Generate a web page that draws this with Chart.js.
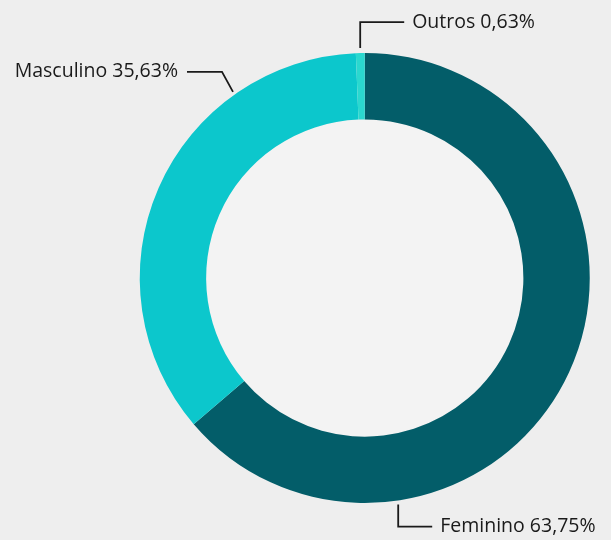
<!DOCTYPE html>
<html>
<head>
<meta charset="utf-8">
<script src="https://cdn.jsdelivr.net/npm/chart.js@4"></script>
<style>
    html, body { margin: 0; padding: 0; background: #eeeeee; }
    #wrap { width: 611px; height: 540px; }
</style>
</head>
<body>
<div id="wrap"><canvas id="genero" width="611" height="540"></canvas></div>
<script>
const categorias = ['Feminino', 'Masculino', 'Outros'];
const percentuais = [63.75, 35.63, 0.63];
const rotulos = ['Feminino 63,75%', 'Masculino 35,63%', 'Outros 0,63%'];
const cores = ['#035d69', '#0cc7cc', '#2ad8cf'];

// leader lines: angle on the ring (deg, clockwise from top), then elbow / end offsets
const chamadas = [
    { angulo: 171.6, raio: 4, dy: 22, dx: 34, lado: 'dir' },
    { angulo: 324.7, raio: 3, dy: -20, dx: -35, lado: 'esq', dxElbow: -11 },
    { angulo: null, raio: 5, dy: -26, dx: 44, lado: 'dir' }
];

const fundoInterno = {
    id: 'fundoInterno',
    beforeDatasetsDraw(chart) {
        const arc = chart.getDatasetMeta(0).data[0];
        if (!arc) return;
        const { x, y, innerRadius } = arc.getProps(['x', 'y', 'innerRadius'], true);
        const ctx = chart.ctx;
        ctx.save();
        ctx.fillStyle = '#f3f3f3';
        ctx.beginPath();
        ctx.arc(x, y, innerRadius, 0, Math.PI * 2);
        ctx.fill();
        ctx.restore();
    }
};

const rotulosPlugin = {
    id: 'rotulos',
    afterDatasetsDraw(chart) {
        const ctx = chart.ctx;
        const meta = chart.getDatasetMeta(0);
        ctx.save();
        ctx.strokeStyle = '#1a1a1a';
        ctx.lineWidth = 1.8;
        ctx.fillStyle = '#1a1a1a';
        ctx.font = '19.5px "Open Sans"';
        ctx.textBaseline = 'middle';
        meta.data.forEach((arc, i) => {
            const p = arc.getProps(['x', 'y', 'startAngle', 'endAngle', 'outerRadius'], true);
            const c = chamadas[i];
            let a;
            if (c.angulo === null) {
                a = (p.startAngle + p.endAngle) / 2;
            } else {
                a = c.angulo * Math.PI / 180 - Math.PI / 2;
            }
            const r = p.outerRadius + c.raio;
            const x0 = p.x + Math.cos(a) * r;
            const y0 = p.y + Math.sin(a) * r;
            const x1 = x0 + (c.dxElbow || 0);
            const y1 = y0 + c.dy;
            const x2 = x1 + c.dx;
            ctx.beginPath();
            ctx.moveTo(x0, y0);
            ctx.lineTo(x1, y1);
            ctx.lineTo(x2, y1);
            ctx.stroke();
            if (c.lado === 'dir') {
                ctx.textAlign = 'left';
                ctx.fillText(rotulos[i], x2 + 8, y1);
            } else {
                ctx.textAlign = 'right';
                ctx.fillText(rotulos[i], x2 - 9, y1);
            }
        });
        ctx.restore();
    }
};

const canvas = document.getElementById('genero').getContext('2d');
const graficoGenero = new Chart(canvas, {
    type: 'doughnut',
    data: {
        labels: categorias,
        datasets: [{
            data: percentuais,
            backgroundColor: cores,
            borderWidth: 0
        }]
    },
    options: {
        responsive: false,
        animation: false,
        cutout: '70.5%',
        layout: {
            padding: { left: 139.5, right: 21, top: 53, bottom: 37 }
        },
        plugins: {
            legend: { display: false },
            tooltip: { enabled: false }
        }
    },
    plugins: [fundoInterno, rotulosPlugin]
});
</script>
</body>
</html>
